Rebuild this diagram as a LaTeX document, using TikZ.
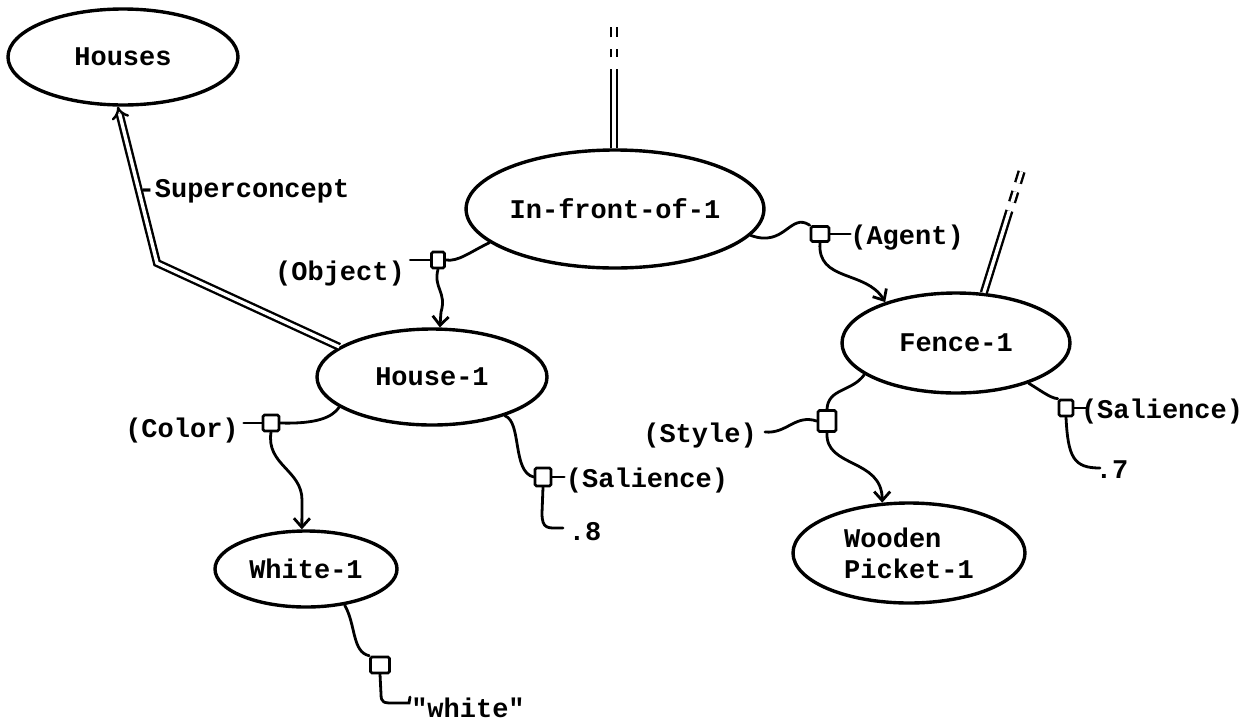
\documentclass[tikz,border=0pt]{standalone}
\usepackage{fontspec}
\newfontfamily\typewriter{Liberation Mono}
\usetikzlibrary{shapes.geometric,arrows.meta,calc}
\begin{document}
\begin{tikzpicture}[x=1pt,y=-1pt,
  txt/.style={font=\typewriter\bfseries\fontsize{27}{31}\selectfont},
  concept/.style={txt, draw, ellipse, line width=3.4pt, inner sep=0pt},
  lbl/.style={txt, inner sep=0pt, anchor=base},
  rel/.style={draw, line width=2.6pt, inner sep=0pt, rounded corners=1.5pt, fill=white},
  link/.style={line width=2.8pt, line cap=round},
  arr/.style={link, -{Straight Barb[length=9pt,width=16pt]}},
  isa/.style={double, line width=2.4pt, double distance=3.4pt},
]
\useasboundingbox (0,0) rectangle (1252,726);

% concept nodes
\node[concept, minimum width=230pt, minimum height=96pt]  (houses) at (123,57)  {Houses};
\node[concept, minimum width=274pt, minimum height=118pt] (ifo)    at (615,209) {In-front-of-1};
\node[concept, minimum width=230pt, minimum height=96pt]  (h1)     at (432,377) {House-1};
\node[concept, minimum width=228pt, minimum height=100pt] (fence)  at (956,343) {Fence-1};
\node[concept, minimum width=182pt, minimum height=76pt]  (w1)     at (306,569) {White-1};
\node[concept, minimum width=232pt, minimum height=100pt, align=left] (wp) at (909,553) {Wooden\\Picket-1};

% relation boxes
\node[rel, minimum width=13pt, minimum height=16pt] (objbox)   at (438,260) {};
\node[rel, minimum width=18pt, minimum height=15pt] (agentbox) at (820,234) {};
\node[rel, minimum width=16pt, minimum height=16pt] (colorbox) at (271,423) {};
\node[rel, minimum width=16pt, minimum height=18pt] (salhbox)  at (543,477) {};
\node[rel, minimum width=18pt, minimum height=21pt] (stylebox) at (827,421) {};
\node[rel, minimum width=14pt, minimum height=16pt] (salfbox)  at (1066,408) {};
\node[rel, minimum width=19pt, minimum height=16pt] (whitebox) at (380,665) {};

% labels
\node[lbl] (supl)   at (244,197)  {-Superconcept};
\node[lbl] (objl)   at (340,280)  {(Object)};
\node[lbl] (agentl) at (907,244)  {(Agent)};
\node[lbl] (colorl) at (182,437)  {(Color)};
\node[lbl] (salhl)  at (647,487)  {(Salience)};
\node[lbl] (v8)     at (585,540)  {.8};
\node[lbl] (stylel) at (700,442)  {(Style)};
\node[lbl] (salfl)  at (1162,418) {(Salience)};
\node[lbl] (v7)     at (1112,478) {.7};
\node[lbl] (whitel) at (468,717)  {"white"};

% superconcept link
\draw[isa, -{Implies}] (h1.162) -- (157,263) -- (houses.264);

% links continuing upward
\draw[isa, dash pattern=on 79pt off 12pt on 8pt off 12pt on 10pt] (ifo.91) -- ++(0,-121);
\draw[isa, dash pattern=on 86pt off 9pt on 11pt off 9pt on 12pt] (fence.61) -- ++(38,-122);

% Object
\draw[link] (ifo.195) .. controls (470,252) and (458,262) .. (objbox.east);
\draw[link] (objbox.west) -- ++(-20,0);
\draw[arr] (objbox.south) .. controls (433,288) and (447,292) .. (441,312) -- (h1.81);

% Agent
\draw[link] (ifo.349) .. controls (785,248) and (790,212) .. (agentbox.north west);
\draw[link] (agentbox.east) -- ++(20,0);
\draw[arr] (agentbox.south) .. controls (817,282) and (866,270) .. (fence.150);

% Color
\draw[link] (h1.198) .. controls (332,418) and (315,424) .. (colorbox.east);
\draw[link] (colorbox.west) -- ++(-18,0);
\draw[arr] (colorbox.south) .. controls (266,465) and (302,470) .. (302,500) -- (w1.96);

% Salience of House-1
\coordinate (v8end) at (563,528);
\draw[link] (h1.332) .. controls (522,422) and (512,472) .. (salhbox.west);
\draw[link] (salhbox.east) -- ++(12,0);
\draw[link] (salhbox.south) -- (542,513) .. controls (542,530) and (548,528) .. (v8end);

% Style
\coordinate (styleend) at (765,432);
\draw[link] (fence.199) .. controls (852,392) and (828,388) .. (stylebox.north);
\draw[link] (stylebox.west) .. controls (795,414) and (787,434) .. (styleend);
\draw[arr] (stylebox.south) .. controls (825,468) and (882,458) .. (wp.118);

% Salience of Fence-1
\coordinate (v7end) at (1100,468);
\draw[link] (fence.331) .. controls (1040,390) and (1050,398) .. (salfbox.north west);
\draw[link] (salfbox.east) -- ++(12,0);
\draw[link] (salfbox.south) .. controls (1068,458) and (1074,468) .. (v7end);

% value of White-1
\coordinate (whend) at (410,697);
\draw[link] (w1.317) .. controls (356,625) and (352,652) .. (whitebox.north west);
\draw[link] (whitebox.south) -- (381,694) .. controls (381,703) and (384,703) .. (394,703) -- (409,703) -- (whend);
\end{tikzpicture}
\end{document}
